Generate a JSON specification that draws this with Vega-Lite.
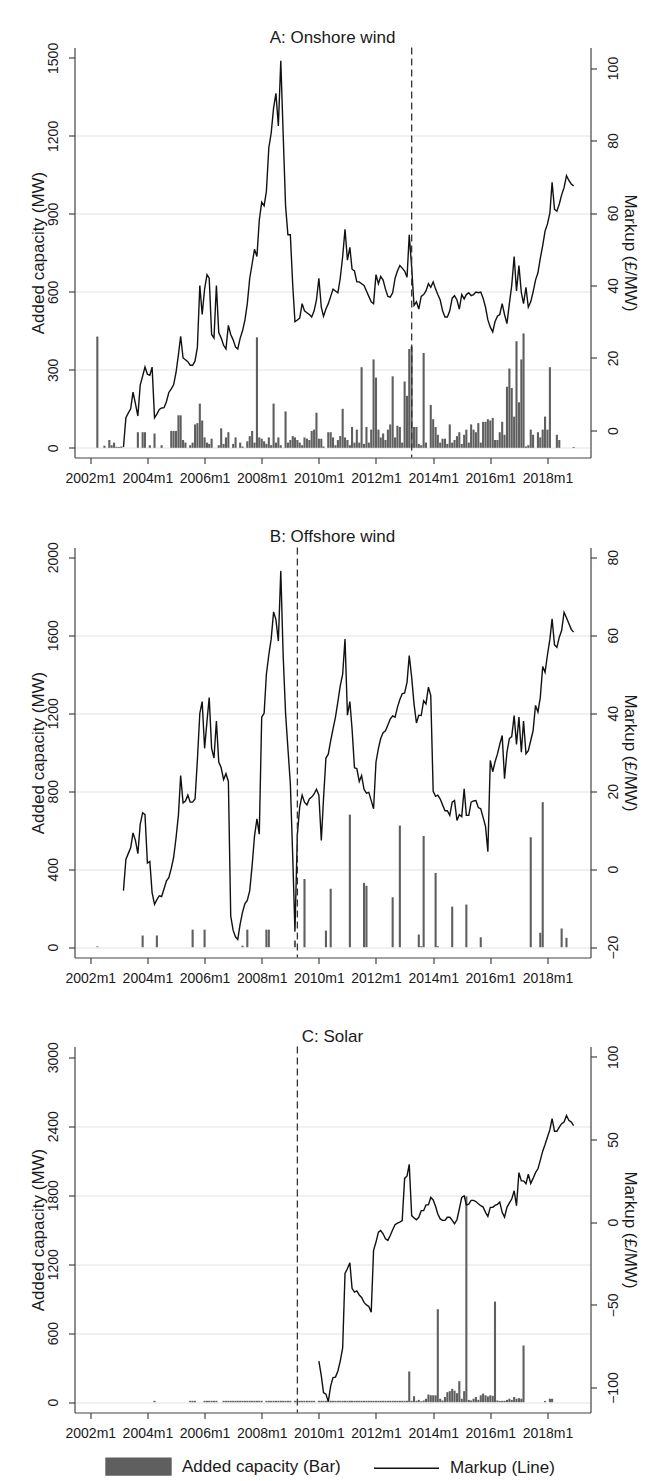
{
"$schema": "https://vega.github.io/schema/vega-lite/v6.json",
"background": "white",
"padding": {"left": 28.5, "top": 28.5, "right": 5, "bottom": 5},
"spacing": 42,
"config": {
  "font": "Liberation Sans",
  "view": {"stroke": null},
  "axis": {"labelFont": "Liberation Sans", "labelFontSize": 14, "labelColor": "#1a1a1a", "titleFont": "Liberation Sans", "titleFontSize": 17, "titleFontWeight": "normal", "titleColor": "#1a1a1a", "domainColor": "#444444", "domainWidth": 1.2, "tickColor": "#444444", "tickWidth": 1.2, "tickSize": 6, "gridColor": "#e3e3e3", "gridWidth": 1},
  "title": {"font": "Liberation Sans", "fontSize": 17, "fontWeight": "normal", "color": "#1a1a1a", "offset": -4.6, "anchor": "middle", "frame": "group"}
},
"datasets": {
  "breaks": [{"panel": "A", "month": "2013-04"}, {"panel": "B", "month": "2009-04"}, {"panel": "C", "month": "2009-04"}],
  "onshore_cap": [
    {"month":"2002-04","capacity":428},{"month":"2002-07","capacity":8},{"month":"2002-09","capacity":30},{"month":"2002-10","capacity":10},{"month":"2002-11","capacity":20},{"month":"2002-12","capacity":4},{"month":"2003-01","capacity":3},{"month":"2003-02","capacity":5},
    {"month":"2003-09","capacity":60},{"month":"2003-11","capacity":60},{"month":"2003-12","capacity":60},{"month":"2004-02","capacity":10},{"month":"2004-04","capacity":55},{"month":"2004-07","capacity":10},{"month":"2004-11","capacity":65},{"month":"2004-12","capacity":65},
    {"month":"2005-01","capacity":65},{"month":"2005-02","capacity":125},{"month":"2005-03","capacity":125},{"month":"2005-04","capacity":30},{"month":"2005-05","capacity":20},{"month":"2005-07","capacity":10},{"month":"2005-08","capacity":20},{"month":"2005-09","capacity":90},{"month":"2005-10","capacity":95},{"month":"2005-11","capacity":170},{"month":"2005-12","capacity":105},
    {"month":"2006-01","capacity":40},{"month":"2006-02","capacity":20},{"month":"2006-03","capacity":15},{"month":"2006-04","capacity":35},{"month":"2006-07","capacity":10},{"month":"2006-08","capacity":75},{"month":"2006-09","capacity":15},{"month":"2006-10","capacity":40},{"month":"2006-11","capacity":60},
    {"month":"2007-01","capacity":15},{"month":"2007-02","capacity":40},{"month":"2007-04","capacity":20},{"month":"2007-05","capacity":5},{"month":"2007-07","capacity":25},{"month":"2007-08","capacity":45},{"month":"2007-09","capacity":65},{"month":"2007-10","capacity":20},{"month":"2007-11","capacity":425},{"month":"2007-12","capacity":40},
    {"month":"2008-01","capacity":35},{"month":"2008-02","capacity":25},{"month":"2008-03","capacity":15},{"month":"2008-04","capacity":40},{"month":"2008-05","capacity":10},{"month":"2008-06","capacity":170},{"month":"2008-07","capacity":20},{"month":"2008-08","capacity":40},{"month":"2008-09","capacity":10},{"month":"2008-11","capacity":140},{"month":"2008-12","capacity":20},
    {"month":"2009-01","capacity":30},{"month":"2009-02","capacity":45},{"month":"2009-03","capacity":40},{"month":"2009-04","capacity":30},{"month":"2009-05","capacity":20},{"month":"2009-06","capacity":10},{"month":"2009-07","capacity":40},{"month":"2009-08","capacity":35},{"month":"2009-09","capacity":30},{"month":"2009-10","capacity":65},{"month":"2009-11","capacity":70},{"month":"2009-12","capacity":135},
    {"month":"2010-01","capacity":35},{"month":"2010-02","capacity":35},{"month":"2010-03","capacity":5},{"month":"2010-05","capacity":60},{"month":"2010-06","capacity":60},{"month":"2010-07","capacity":40},{"month":"2010-08","capacity":10},{"month":"2010-09","capacity":30},{"month":"2010-10","capacity":45},{"month":"2010-11","capacity":150},{"month":"2010-12","capacity":40},
    {"month":"2011-01","capacity":30},{"month":"2011-02","capacity":10},{"month":"2011-03","capacity":80},{"month":"2011-04","capacity":20},{"month":"2011-05","capacity":70},{"month":"2011-06","capacity":20},{"month":"2011-07","capacity":310},{"month":"2011-08","capacity":15},{"month":"2011-09","capacity":80},{"month":"2011-10","capacity":20},{"month":"2011-11","capacity":70},{"month":"2011-12","capacity":340},
    {"month":"2012-01","capacity":270},{"month":"2012-02","capacity":70},{"month":"2012-03","capacity":40},{"month":"2012-04","capacity":55},{"month":"2012-05","capacity":30},{"month":"2012-06","capacity":70},{"month":"2012-07","capacity":90},{"month":"2012-08","capacity":275},{"month":"2012-09","capacity":40},{"month":"2012-10","capacity":85},{"month":"2012-11","capacity":80},{"month":"2012-12","capacity":20},
    {"month":"2013-01","capacity":255},{"month":"2013-02","capacity":200},{"month":"2013-03","capacity":380},{"month":"2013-04","capacity":390},{"month":"2013-05","capacity":80},{"month":"2013-06","capacity":80},{"month":"2013-07","capacity":15},{"month":"2013-08","capacity":10},{"month":"2013-09","capacity":365},{"month":"2013-10","capacity":20},{"month":"2013-12","capacity":165},
    {"month":"2014-01","capacity":110},{"month":"2014-02","capacity":80},{"month":"2014-03","capacity":50},{"month":"2014-04","capacity":20},{"month":"2014-05","capacity":35},{"month":"2014-06","capacity":35},{"month":"2014-07","capacity":15},{"month":"2014-08","capacity":90},{"month":"2014-09","capacity":20},{"month":"2014-10","capacity":30},{"month":"2014-11","capacity":45},{"month":"2014-12","capacity":60},
    {"month":"2015-01","capacity":15},{"month":"2015-02","capacity":50},{"month":"2015-03","capacity":70},{"month":"2015-04","capacity":20},{"month":"2015-05","capacity":90},{"month":"2015-06","capacity":70},{"month":"2015-07","capacity":60},{"month":"2015-08","capacity":95},{"month":"2015-09","capacity":20},{"month":"2015-10","capacity":100},{"month":"2015-11","capacity":100},{"month":"2015-12","capacity":110},
    {"month":"2016-01","capacity":105},{"month":"2016-02","capacity":115},{"month":"2016-03","capacity":30},{"month":"2016-04","capacity":30},{"month":"2016-05","capacity":60},{"month":"2016-06","capacity":100},{"month":"2016-07","capacity":50},{"month":"2016-08","capacity":235},{"month":"2016-09","capacity":305},{"month":"2016-10","capacity":230},{"month":"2016-11","capacity":120},{"month":"2016-12","capacity":410},
    {"month":"2017-01","capacity":175},{"month":"2017-02","capacity":340},{"month":"2017-03","capacity":440},{"month":"2017-04","capacity":5},{"month":"2017-05","capacity":10},{"month":"2017-06","capacity":70},{"month":"2017-07","capacity":50},{"month":"2017-09","capacity":60},{"month":"2017-10","capacity":40},{"month":"2017-11","capacity":70},{"month":"2017-12","capacity":120},
    {"month":"2018-01","capacity":70},{"month":"2018-02","capacity":310},{"month":"2018-05","capacity":50},{"month":"2018-06","capacity":30},{"month":"2018-12","capacity":3}
  ],
  "onshore_mk": [
    {"month":"2003-03","markup":-4.6},{"month":"2003-04","markup":3.5},{"month":"2003-05","markup":4.8},{"month":"2003-06","markup":6.0},{"month":"2003-07","markup":10.6},{"month":"2003-08","markup":7.4},{"month":"2003-09","markup":4.0},{"month":"2003-10","markup":12.5},{"month":"2003-11","markup":15.0},{"month":"2003-12","markup":17.5},
    {"month":"2004-01","markup":15.5},{"month":"2004-02","markup":15.2},{"month":"2004-03","markup":17.5},{"month":"2004-04","markup":3.5},{"month":"2004-05","markup":4.5},{"month":"2004-06","markup":5.8},{"month":"2004-07","markup":6.2},{"month":"2004-08","markup":6.3},{"month":"2004-09","markup":8.0},{"month":"2004-10","markup":10.5},{"month":"2004-11","markup":11.5},{"month":"2004-12","markup":12.6},
    {"month":"2005-01","markup":16.0},{"month":"2005-02","markup":21.0},{"month":"2005-03","markup":26.0},{"month":"2005-04","markup":20.0},{"month":"2005-05","markup":19.5},{"month":"2005-06","markup":19.0},{"month":"2005-07","markup":18.0},{"month":"2005-08","markup":18.0},{"month":"2005-09","markup":19.2},{"month":"2005-10","markup":23.0},{"month":"2005-11","markup":40.0},{"month":"2005-12","markup":32.0},
    {"month":"2006-01","markup":39.0},{"month":"2006-02","markup":43.0},{"month":"2006-03","markup":42.0},{"month":"2006-04","markup":26.5},{"month":"2006-05","markup":25.5},{"month":"2006-06","markup":40.0},{"month":"2006-07","markup":27.0},{"month":"2006-08","markup":25.5},{"month":"2006-09","markup":23.5},{"month":"2006-10","markup":22.5},{"month":"2006-11","markup":29.0},{"month":"2006-12","markup":26.5},
    {"month":"2007-01","markup":25.0},{"month":"2007-02","markup":23.0},{"month":"2007-03","markup":22.5},{"month":"2007-04","markup":25.5},{"month":"2007-05","markup":27.5},{"month":"2007-06","markup":30.5},{"month":"2007-07","markup":35.0},{"month":"2007-08","markup":42.0},{"month":"2007-09","markup":46.0},{"month":"2007-10","markup":50.0},{"month":"2007-11","markup":48.0},{"month":"2007-12","markup":58.0},
    {"month":"2008-01","markup":63.0},{"month":"2008-02","markup":62.0},{"month":"2008-03","markup":66.0},{"month":"2008-04","markup":78.0},{"month":"2008-05","markup":82.0},{"month":"2008-06","markup":89.0},{"month":"2008-07","markup":93.0},{"month":"2008-08","markup":84.0},{"month":"2008-09","markup":102.0},{"month":"2008-10","markup":82.0},{"month":"2008-11","markup":62.0},{"month":"2008-12","markup":54.0},
    {"month":"2009-01","markup":54.0},{"month":"2009-02","markup":40.0},{"month":"2009-03","markup":30.0},{"month":"2009-04","markup":30.5},{"month":"2009-05","markup":31.0},{"month":"2009-06","markup":35.0},{"month":"2009-07","markup":33.0},{"month":"2009-08","markup":32.5},{"month":"2009-09","markup":32.0},{"month":"2009-10","markup":31.3},{"month":"2009-11","markup":33.0},{"month":"2009-12","markup":36.0},
    {"month":"2010-01","markup":42.0},{"month":"2010-02","markup":34.0},{"month":"2010-03","markup":31.5},{"month":"2010-04","markup":33.5},{"month":"2010-05","markup":35.0},{"month":"2010-06","markup":37.0},{"month":"2010-07","markup":39.0},{"month":"2010-08","markup":38.5},{"month":"2010-09","markup":38.0},{"month":"2010-10","markup":42.0},{"month":"2010-11","markup":48.0},{"month":"2010-12","markup":55.5},
    {"month":"2011-01","markup":47.0},{"month":"2011-02","markup":50.5},{"month":"2011-03","markup":44.5},{"month":"2011-04","markup":44.0},{"month":"2011-05","markup":41.0},{"month":"2011-06","markup":41.0},{"month":"2011-07","markup":40.5},{"month":"2011-08","markup":40.0},{"month":"2011-09","markup":38.5},{"month":"2011-10","markup":37.0},{"month":"2011-11","markup":35.5},{"month":"2011-12","markup":35.0},
    {"month":"2012-01","markup":43.0},{"month":"2012-02","markup":40.5},{"month":"2012-03","markup":42.5},{"month":"2012-04","markup":41.5},{"month":"2012-05","markup":39.0},{"month":"2012-06","markup":37.0},{"month":"2012-07","markup":36.8},{"month":"2012-08","markup":38.0},{"month":"2012-09","markup":42.0},{"month":"2012-10","markup":44.0},{"month":"2012-11","markup":45.5},{"month":"2012-12","markup":44.8},
    {"month":"2013-01","markup":44.0},{"month":"2013-02","markup":42.3},{"month":"2013-03","markup":54.0},{"month":"2013-04","markup":45.0},{"month":"2013-05","markup":34.5},{"month":"2013-06","markup":35.5},{"month":"2013-07","markup":33.5},{"month":"2013-08","markup":37.0},{"month":"2013-09","markup":37.5},{"month":"2013-10","markup":38.5},{"month":"2013-11","markup":40.5},{"month":"2013-12","markup":39.5},
    {"month":"2014-01","markup":41.0},{"month":"2014-02","markup":39.0},{"month":"2014-03","markup":37.5},{"month":"2014-04","markup":36.0},{"month":"2014-05","markup":33.0},{"month":"2014-06","markup":31.3},{"month":"2014-07","markup":31.3},{"month":"2014-08","markup":33.0},{"month":"2014-09","markup":36.5},{"month":"2014-10","markup":37.2},{"month":"2014-11","markup":36.0},{"month":"2014-12","markup":33.5},
    {"month":"2015-01","markup":37.5},{"month":"2015-02","markup":36.3},{"month":"2015-03","markup":37.5},{"month":"2015-04","markup":38.0},{"month":"2015-05","markup":37.2},{"month":"2015-06","markup":37.5},{"month":"2015-07","markup":38.2},{"month":"2015-08","markup":38.0},{"month":"2015-09","markup":38.2},{"month":"2015-10","markup":36.5},{"month":"2015-11","markup":34.0},{"month":"2015-12","markup":30.5},
    {"month":"2016-01","markup":28.5},{"month":"2016-02","markup":27.2},{"month":"2016-03","markup":30.0},{"month":"2016-04","markup":31.5},{"month":"2016-05","markup":32.0},{"month":"2016-06","markup":35.0},{"month":"2016-07","markup":32.0},{"month":"2016-08","markup":29.5},{"month":"2016-09","markup":35.0},{"month":"2016-10","markup":40.0},{"month":"2016-11","markup":48.0},{"month":"2016-12","markup":38.5},
    {"month":"2017-01","markup":45.5},{"month":"2017-02","markup":38.0},{"month":"2017-03","markup":35.0},{"month":"2017-04","markup":39.5},{"month":"2017-05","markup":34.0},{"month":"2017-06","markup":35.5},{"month":"2017-07","markup":38.2},{"month":"2017-08","markup":41.5},{"month":"2017-09","markup":43.5},{"month":"2017-10","markup":47.5},{"month":"2017-11","markup":51.0},{"month":"2017-12","markup":55.0},
    {"month":"2018-01","markup":57.0},{"month":"2018-02","markup":60.0},{"month":"2018-03","markup":68.5},{"month":"2018-04","markup":61.0},{"month":"2018-05","markup":60.5},{"month":"2018-06","markup":62.5},{"month":"2018-07","markup":65.0},{"month":"2018-08","markup":67.0},{"month":"2018-09","markup":70.3},{"month":"2018-10","markup":69.0},{"month":"2018-11","markup":68.0},{"month":"2018-12","markup":67.5}
  ],
  "offshore_cap": [
    {"month":"2002-04","capacity":4},{"month":"2003-11","capacity":60},{"month":"2004-05","capacity":60},{"month":"2005-08","capacity":90},{"month":"2006-01","capacity":90},{"month":"2007-05","capacity":8},{"month":"2007-07","capacity":90},{"month":"2008-03","capacity":90},{"month":"2008-04","capacity":90},{"month":"2009-03","capacity":34},
    {"month":"2009-07","capacity":350},{"month":"2010-04","capacity":85},{"month":"2010-06","capacity":300},{"month":"2011-02","capacity":680},{"month":"2011-08","capacity":330},{"month":"2011-09","capacity":315},{"month":"2012-08","capacity":256},{"month":"2012-11","capacity":624},
    {"month":"2013-07","capacity":65},{"month":"2013-08","capacity":5},{"month":"2013-09","capacity":570},{"month":"2014-02","capacity":381},{"month":"2014-03","capacity":5},{"month":"2014-09","capacity":208},{"month":"2015-03","capacity":219},{"month":"2015-09","capacity":51},
    {"month":"2017-06","capacity":564},{"month":"2017-10","capacity":74},{"month":"2017-11","capacity":744},{"month":"2018-07","capacity":96},{"month":"2018-09","capacity":48}
  ],
  "offshore_mk": [
    {"month":"2003-03","markup":-5.5},{"month":"2003-04","markup":2.5},{"month":"2003-05","markup":4.0},{"month":"2003-06","markup":5.5},{"month":"2003-07","markup":9.3},{"month":"2003-08","markup":7.4},{"month":"2003-09","markup":4.0},{"month":"2003-10","markup":11.5},{"month":"2003-11","markup":14.5},{"month":"2003-12","markup":14.0},
    {"month":"2004-01","markup":1.6},{"month":"2004-02","markup":2.0},{"month":"2004-03","markup":-6.0},{"month":"2004-04","markup":-9.0},{"month":"2004-05","markup":-7.8},{"month":"2004-06","markup":-6.8},{"month":"2004-07","markup":-7.0},{"month":"2004-08","markup":-5.0},{"month":"2004-09","markup":-3.0},{"month":"2004-10","markup":-2.2},{"month":"2004-11","markup":0.2},{"month":"2004-12","markup":3.0},
    {"month":"2005-01","markup":8.0},{"month":"2005-02","markup":14.0},{"month":"2005-03","markup":24.0},{"month":"2005-04","markup":17.0},{"month":"2005-05","markup":17.5},{"month":"2005-06","markup":19.0},{"month":"2005-07","markup":17.2},{"month":"2005-08","markup":17.2},{"month":"2005-09","markup":18.0},{"month":"2005-10","markup":28.0},{"month":"2005-11","markup":40.0},{"month":"2005-12","markup":43.0},
    {"month":"2006-01","markup":31.0},{"month":"2006-02","markup":38.0},{"month":"2006-03","markup":44.0},{"month":"2006-04","markup":31.0},{"month":"2006-05","markup":28.5},{"month":"2006-06","markup":38.0},{"month":"2006-07","markup":27.5},{"month":"2006-08","markup":26.0},{"month":"2006-09","markup":23.0},{"month":"2006-10","markup":24.5},{"month":"2006-11","markup":22.5},{"month":"2006-12","markup":-12.0},
    {"month":"2007-01","markup":-15.7},{"month":"2007-02","markup":-17.4},{"month":"2007-03","markup":-18.0},{"month":"2007-04","markup":-14.0},{"month":"2007-05","markup":-11.0},{"month":"2007-06","markup":-8.8},{"month":"2007-07","markup":-8.0},{"month":"2007-08","markup":-5.5},{"month":"2007-09","markup":1.0},{"month":"2007-10","markup":8.5},{"month":"2007-11","markup":12.9},{"month":"2007-12","markup":9.0},
    {"month":"2008-01","markup":39.0},{"month":"2008-02","markup":40.0},{"month":"2008-03","markup":50.0},{"month":"2008-04","markup":55.0},{"month":"2008-05","markup":59.0},{"month":"2008-06","markup":66.0},{"month":"2008-07","markup":64.0},{"month":"2008-08","markup":58.5},{"month":"2008-09","markup":76.5},{"month":"2008-10","markup":55.0},{"month":"2008-11","markup":40.0},{"month":"2008-12","markup":31.0},
    {"month":"2009-01","markup":22.0},{"month":"2009-02","markup":3.0},{"month":"2009-03","markup":-16.0},{"month":"2009-04","markup":9.0},{"month":"2009-05","markup":16.0},{"month":"2009-06","markup":19.0},{"month":"2009-07","markup":17.2},{"month":"2009-08","markup":16.5},{"month":"2009-09","markup":18.0},{"month":"2009-10","markup":18.5},{"month":"2009-11","markup":19.3},{"month":"2009-12","markup":20.5},
    {"month":"2010-01","markup":19.0},{"month":"2010-02","markup":7.4},{"month":"2010-03","markup":18.0},{"month":"2010-04","markup":28.5},{"month":"2010-05","markup":29.5},{"month":"2010-06","markup":33.0},{"month":"2010-07","markup":36.0},{"month":"2010-08","markup":39.0},{"month":"2010-09","markup":43.0},{"month":"2010-10","markup":47.0},{"month":"2010-11","markup":50.0},{"month":"2010-12","markup":59.0},
    {"month":"2011-01","markup":39.5},{"month":"2011-02","markup":43.0},{"month":"2011-03","markup":36.0},{"month":"2011-04","markup":26.0},{"month":"2011-05","markup":25.8},{"month":"2011-06","markup":22.5},{"month":"2011-07","markup":24.0},{"month":"2011-08","markup":20.5},{"month":"2011-09","markup":19.5},{"month":"2011-10","markup":19.7},{"month":"2011-11","markup":17.6},{"month":"2011-12","markup":15.5},
    {"month":"2012-01","markup":27.5},{"month":"2012-02","markup":31.0},{"month":"2012-03","markup":33.5},{"month":"2012-04","markup":35.0},{"month":"2012-05","markup":35.5},{"month":"2012-06","markup":37.0},{"month":"2012-07","markup":38.5},{"month":"2012-08","markup":39.3},{"month":"2012-09","markup":39.0},{"month":"2012-10","markup":41.5},{"month":"2012-11","markup":43.5},{"month":"2012-12","markup":45.0},
    {"month":"2013-01","markup":45.2},{"month":"2013-02","markup":48.0},{"month":"2013-03","markup":54.8},{"month":"2013-04","markup":49.2},{"month":"2013-05","markup":42.4},{"month":"2013-06","markup":37.5},{"month":"2013-07","markup":39.5},{"month":"2013-08","markup":39.4},{"month":"2013-09","markup":43.2},{"month":"2013-10","markup":42.4},{"month":"2013-11","markup":46.7},{"month":"2013-12","markup":44.5},
    {"month":"2014-01","markup":20.0},{"month":"2014-02","markup":18.7},{"month":"2014-03","markup":19.0},{"month":"2014-04","markup":18.0},{"month":"2014-05","markup":16.5},{"month":"2014-06","markup":15.0},{"month":"2014-07","markup":15.0},{"month":"2014-08","markup":13.8},{"month":"2014-09","markup":17.2},{"month":"2014-10","markup":17.6},{"month":"2014-11","markup":12.5},{"month":"2014-12","markup":14.0},
    {"month":"2015-01","markup":13.5},{"month":"2015-02","markup":20.6},{"month":"2015-03","markup":13.8},{"month":"2015-04","markup":13.8},{"month":"2015-05","markup":17.2},{"month":"2015-06","markup":17.5},{"month":"2015-07","markup":17.6},{"month":"2015-08","markup":15.8},{"month":"2015-09","markup":15.5},{"month":"2015-10","markup":13.3},{"month":"2015-11","markup":11.0},{"month":"2015-12","markup":4.5},
    {"month":"2016-01","markup":27.9},{"month":"2016-02","markup":25.0},{"month":"2016-03","markup":27.5},{"month":"2016-04","markup":29.5},{"month":"2016-05","markup":32.0},{"month":"2016-06","markup":34.3},{"month":"2016-07","markup":23.2},{"month":"2016-08","markup":30.0},{"month":"2016-09","markup":33.5},{"month":"2016-10","markup":34.0},{"month":"2016-11","markup":39.4},{"month":"2016-12","markup":32.0},
    {"month":"2017-01","markup":39.0},{"month":"2017-02","markup":30.0},{"month":"2017-03","markup":38.0},{"month":"2017-04","markup":29.6},{"month":"2017-05","markup":30.4},{"month":"2017-06","markup":33.0},{"month":"2017-07","markup":35.5},{"month":"2017-08","markup":42.0},{"month":"2017-09","markup":40.3},{"month":"2017-10","markup":44.0},{"month":"2017-11","markup":52.0},{"month":"2017-12","markup":50.5},
    {"month":"2018-01","markup":55.0},{"month":"2018-02","markup":59.0},{"month":"2018-03","markup":64.2},{"month":"2018-04","markup":57.5},{"month":"2018-05","markup":56.9},{"month":"2018-06","markup":59.5},{"month":"2018-07","markup":61.2},{"month":"2018-08","markup":65.9},{"month":"2018-09","markup":64.5},{"month":"2018-10","markup":63.0},{"month":"2018-11","markup":61.5},{"month":"2018-12","markup":60.8}
  ],
  "solar_cap": [
    {"month":"2004-04","capacity":12},{"month":"2005-07","capacity":12},{"month":"2005-08","capacity":12},{"month":"2005-09","capacity":12},
    {"month":"2006-01","capacity":12},{"month":"2006-02","capacity":12},{"month":"2006-03","capacity":12},{"month":"2006-04","capacity":12},{"month":"2006-05","capacity":12},{"month":"2006-06","capacity":12},
    {"month":"2006-09","capacity":12},{"month":"2006-10","capacity":12},{"month":"2006-11","capacity":12},{"month":"2006-12","capacity":12},
    {"month":"2007-01","capacity":12},{"month":"2007-02","capacity":12},{"month":"2007-03","capacity":12},{"month":"2007-04","capacity":12},{"month":"2007-05","capacity":12},{"month":"2007-06","capacity":12},{"month":"2007-07","capacity":12},{"month":"2007-08","capacity":12},{"month":"2007-09","capacity":12},{"month":"2007-10","capacity":12},{"month":"2007-11","capacity":12},{"month":"2007-12","capacity":12},
    {"month":"2008-01","capacity":12},{"month":"2008-03","capacity":12},{"month":"2008-04","capacity":12},{"month":"2008-05","capacity":12},{"month":"2008-06","capacity":12},{"month":"2008-07","capacity":12},{"month":"2008-08","capacity":12},{"month":"2008-09","capacity":12},{"month":"2008-10","capacity":12},{"month":"2008-11","capacity":12},{"month":"2008-12","capacity":12},
    {"month":"2009-01","capacity":12},{"month":"2009-03","capacity":12},{"month":"2009-04","capacity":12},{"month":"2009-05","capacity":12},{"month":"2009-06","capacity":12},{"month":"2009-07","capacity":12},{"month":"2009-08","capacity":12},{"month":"2009-09","capacity":12},{"month":"2009-10","capacity":12},{"month":"2009-11","capacity":12},
    {"month":"2010-01","capacity":12},{"month":"2010-02","capacity":12},{"month":"2010-03","capacity":12},{"month":"2010-04","capacity":12},{"month":"2010-05","capacity":12},{"month":"2010-06","capacity":12},{"month":"2010-07","capacity":12},{"month":"2010-08","capacity":12},{"month":"2010-09","capacity":12},{"month":"2010-10","capacity":12},{"month":"2010-11","capacity":12},{"month":"2010-12","capacity":12},
    {"month":"2011-01","capacity":12},{"month":"2011-02","capacity":12},{"month":"2011-03","capacity":12},{"month":"2011-04","capacity":12},{"month":"2011-05","capacity":12},{"month":"2011-06","capacity":12},{"month":"2011-07","capacity":12},{"month":"2011-08","capacity":12},{"month":"2011-09","capacity":12},{"month":"2011-10","capacity":12},{"month":"2011-11","capacity":12},{"month":"2011-12","capacity":12},
    {"month":"2012-01","capacity":12},{"month":"2012-02","capacity":12},{"month":"2012-03","capacity":12},{"month":"2012-04","capacity":12},{"month":"2012-05","capacity":12},{"month":"2012-06","capacity":12},{"month":"2012-07","capacity":12},{"month":"2012-08","capacity":12},{"month":"2012-09","capacity":12},{"month":"2012-10","capacity":12},{"month":"2012-11","capacity":12},{"month":"2012-12","capacity":12},
    {"month":"2013-01","capacity":12},{"month":"2013-02","capacity":12},{"month":"2013-03","capacity":267},{"month":"2013-04","capacity":12},{"month":"2013-05","capacity":52},{"month":"2013-06","capacity":12},{"month":"2013-07","capacity":20},{"month":"2013-08","capacity":8},{"month":"2013-09","capacity":15},{"month":"2013-10","capacity":30},{"month":"2013-11","capacity":67},{"month":"2013-12","capacity":60},
    {"month":"2014-01","capacity":60},{"month":"2014-02","capacity":60},{"month":"2014-03","capacity":809},{"month":"2014-04","capacity":30},{"month":"2014-05","capacity":15},{"month":"2014-06","capacity":45},{"month":"2014-07","capacity":87},{"month":"2014-08","capacity":96},{"month":"2014-09","capacity":116},{"month":"2014-10","capacity":100},{"month":"2014-11","capacity":78},{"month":"2014-12","capacity":183},
    {"month":"2015-01","capacity":30},{"month":"2015-02","capacity":96},{"month":"2015-03","capacity":1790},{"month":"2015-04","capacity":20},{"month":"2015-05","capacity":15},{"month":"2015-06","capacity":30},{"month":"2015-07","capacity":45},{"month":"2015-08","capacity":20},{"month":"2015-09","capacity":60},{"month":"2015-10","capacity":75},{"month":"2015-11","capacity":60},{"month":"2015-12","capacity":50},
    {"month":"2016-01","capacity":60},{"month":"2016-02","capacity":55},{"month":"2016-03","capacity":875},{"month":"2016-04","capacity":15},{"month":"2016-05","capacity":10},{"month":"2016-06","capacity":12},{"month":"2016-07","capacity":12},{"month":"2016-08","capacity":20},{"month":"2016-09","capacity":30},{"month":"2016-10","capacity":20},{"month":"2016-11","capacity":45},{"month":"2016-12","capacity":30},
    {"month":"2017-01","capacity":35},{"month":"2017-02","capacity":30},{"month":"2017-03","capacity":493},{"month":"2017-12","capacity":10},{"month":"2018-02","capacity":30},{"month":"2018-03","capacity":30}
  ],
  "solar_mk": [
    {"month":"2010-01","markup":-84},{"month":"2010-02","markup":-93},{"month":"2010-03","markup":-103},{"month":"2010-04","markup":-104},{"month":"2010-05","markup":-108.5},{"month":"2010-06","markup":-99},{"month":"2010-07","markup":-94},{"month":"2010-08","markup":-93.7},{"month":"2010-09","markup":-90},{"month":"2010-10","markup":-84},{"month":"2010-11","markup":-76},{"month":"2010-12","markup":-31},
    {"month":"2011-01","markup":-28},{"month":"2011-02","markup":-24.5},{"month":"2011-03","markup":-40},{"month":"2011-04","markup":-42.3},{"month":"2011-05","markup":-41.5},{"month":"2011-06","markup":-44},{"month":"2011-07","markup":-45.5},{"month":"2011-08","markup":-48.5},{"month":"2011-09","markup":-50},{"month":"2011-10","markup":-51},{"month":"2011-11","markup":-54.4},{"month":"2011-12","markup":-17},
    {"month":"2012-01","markup":-12},{"month":"2012-02","markup":-6},{"month":"2012-03","markup":-5},{"month":"2012-04","markup":-7},{"month":"2012-05","markup":-10},{"month":"2012-06","markup":-11},{"month":"2012-07","markup":-8},{"month":"2012-08","markup":-4.5},{"month":"2012-09","markup":-1.5},{"month":"2012-10","markup":-0.5},{"month":"2012-11","markup":0.1},{"month":"2012-12","markup":1},
    {"month":"2013-01","markup":26.5},{"month":"2013-02","markup":28},{"month":"2013-03","markup":35},{"month":"2013-04","markup":4},{"month":"2013-05","markup":2.6},{"month":"2013-06","markup":1.5},{"month":"2013-07","markup":3},{"month":"2013-08","markup":7},{"month":"2013-09","markup":7},{"month":"2013-10","markup":10.5},{"month":"2013-11","markup":10.5},{"month":"2013-12","markup":15},
    {"month":"2014-01","markup":13.5},{"month":"2014-02","markup":9.5},{"month":"2014-03","markup":5},{"month":"2014-04","markup":2},{"month":"2014-05","markup":1.1},{"month":"2014-06","markup":1.1},{"month":"2014-07","markup":3},{"month":"2014-08","markup":3},{"month":"2014-09","markup":1.1},{"month":"2014-10","markup":-0.9},{"month":"2014-11","markup":1.5},{"month":"2014-12","markup":8},
    {"month":"2015-01","markup":15},{"month":"2015-02","markup":16},{"month":"2015-03","markup":10.5},{"month":"2015-04","markup":11},{"month":"2015-05","markup":13.2},{"month":"2015-06","markup":13.2},{"month":"2015-07","markup":12.5},{"month":"2015-08","markup":11.2},{"month":"2015-09","markup":10},{"month":"2015-10","markup":9.2},{"month":"2015-11","markup":6},{"month":"2015-12","markup":3.5},
    {"month":"2016-01","markup":9},{"month":"2016-02","markup":9},{"month":"2016-03","markup":10.2},{"month":"2016-04","markup":10.8},{"month":"2016-05","markup":12.2},{"month":"2016-06","markup":6},{"month":"2016-07","markup":3.1},{"month":"2016-08","markup":9},{"month":"2016-09","markup":11.7},{"month":"2016-10","markup":14},{"month":"2016-11","markup":19},{"month":"2016-12","markup":10},
    {"month":"2017-01","markup":30},{"month":"2017-02","markup":25},{"month":"2017-03","markup":25},{"month":"2017-04","markup":23.3},{"month":"2017-05","markup":29},{"month":"2017-06","markup":23.5},{"month":"2017-07","markup":26.5},{"month":"2017-08","markup":30},{"month":"2017-09","markup":32.3},{"month":"2017-10","markup":37.4},{"month":"2017-11","markup":43},{"month":"2017-12","markup":47},
    {"month":"2018-01","markup":51.5},{"month":"2018-02","markup":56},{"month":"2018-03","markup":62.6},{"month":"2018-04","markup":55},{"month":"2018-05","markup":55},{"month":"2018-06","markup":57.5},{"month":"2018-07","markup":59.6},{"month":"2018-08","markup":60.6},{"month":"2018-09","markup":64.6},{"month":"2018-10","markup":61.6},{"month":"2018-11","markup":60.6},{"month":"2018-12","markup":58.5}
  ]
},
"vconcat": [
  {
    "title": {"text": "A: Onshore wind"},
    "width": 516, "height": 410,
    "layer": [
      {"data": {"name": "onshore_cap"}, "mark": {"type": "bar", "size": 2.1, "color": "#5f5f5f"},
       "encoding": {
         "x": {"field": "month", "type": "temporal", "scale": {"type": "utc", "nice": false, "domain": [{"year": 2001, "month": 8, "date": 16, "utc": true}, {"year": 2019, "month": 5, "date": 2, "utc": true}]},
               "axis": {"values": [{"year":2002,"month":1,"date":1,"utc":true},{"year":2004,"month":1,"date":1,"utc":true},{"year":2006,"month":1,"date":1,"utc":true},{"year":2008,"month":1,"date":1,"utc":true},{"year":2010,"month":1,"date":1,"utc":true},{"year":2012,"month":1,"date":1,"utc":true},{"year":2014,"month":1,"date":1,"utc":true},{"year":2016,"month":1,"date":1,"utc":true},{"year":2018,"month":1,"date":1,"utc":true}], "format": "%Ym1", "title": null, "grid": false, "labelAngle": 0, "labelPadding": 8, "labelFlush": false}},
         "y": {"field": "capacity", "type": "quantitative", "scale": {"domain": [-37.3, 1540], "nice": false, "zero": false},
               "axis": {"values": [0, 300, 600, 900, 1200, 1500], "format": "d", "title": "Added capacity (MW)", "labelAngle": -90, "labelAlign": "center", "labelBaseline": "alphabetic", "labelPadding": 11.5, "titlePadding": -1.5, "grid": true, "gridOpacity": {"condition": {"test": "datum.value === 1500", "value": 0}, "value": 1}}}
       }},
      {"data": {"name": "onshore_mk"}, "mark": {"type": "line", "color": "#111111", "strokeWidth": 1.4},
       "encoding": {
         "x": {"field": "month", "type": "temporal"},
         "y": {"field": "markup", "type": "quantitative", "scale": {"domain": [-7.45, 105.66], "nice": false, "zero": false},
               "axis": {"orient": "right", "values": [0, 20, 40, 60, 80, 100], "format": "d", "title": "Markup (£/MW)", "labelAngle": -90, "labelAlign": "center", "labelBaseline": "alphabetic", "labelPadding": 21, "titleAngle": 90, "titlePadding": 0, "grid": false}}
       }},
      {"data": {"name": "breaks"}, "transform": [{"filter": "datum.panel === 'A'"}], "mark": {"type": "rule", "color": "#333333", "strokeWidth": 1.3, "strokeDash": [7, 4]},
       "encoding": {"x": {"field": "month", "type": "temporal"}}}
    ],
    "resolve": {"scale": {"y": "independent"}}
  },
  {
    "title": {"text": "B: Offshore wind"},
    "width": 516, "height": 410,
    "layer": [
      {"data": {"name": "offshore_cap"}, "mark": {"type": "bar", "size": 2.1, "color": "#5f5f5f"},
       "encoding": {
         "x": {"field": "month", "type": "temporal", "scale": {"type": "utc", "nice": false, "domain": [{"year": 2001, "month": 8, "date": 16, "utc": true}, {"year": 2019, "month": 5, "date": 2, "utc": true}]},
               "axis": {"values": [{"year":2002,"month":1,"date":1,"utc":true},{"year":2004,"month":1,"date":1,"utc":true},{"year":2006,"month":1,"date":1,"utc":true},{"year":2008,"month":1,"date":1,"utc":true},{"year":2010,"month":1,"date":1,"utc":true},{"year":2012,"month":1,"date":1,"utc":true},{"year":2014,"month":1,"date":1,"utc":true},{"year":2016,"month":1,"date":1,"utc":true},{"year":2018,"month":1,"date":1,"utc":true}], "format": "%Ym1", "title": null, "grid": false, "labelAngle": 0, "labelPadding": 8, "labelFlush": false}},
         "y": {"field": "capacity", "type": "quantitative", "scale": {"domain": [-52.8, 2050], "nice": false, "zero": false},
               "axis": {"values": [0, 400, 800, 1200, 1600, 2000], "format": "d", "title": "Added capacity (MW)", "labelAngle": -90, "labelAlign": "center", "labelBaseline": "alphabetic", "labelPadding": 11.5, "titlePadding": -1.5, "grid": true, "gridOpacity": {"condition": {"test": "datum.value === 2000", "value": 0}, "value": 1}}}
       }},
      {"data": {"name": "offshore_mk"}, "mark": {"type": "line", "color": "#111111", "strokeWidth": 1.4},
       "encoding": {
         "x": {"field": "month", "type": "temporal"},
         "y": {"field": "markup", "type": "quantitative", "scale": {"domain": [-22.64, 82.5], "nice": false, "zero": false},
               "axis": {"orient": "right", "values": [-20, 0, 20, 40, 60, 80], "format": "d", "title": "Markup (£/MW)", "labelAngle": -90, "labelAlign": "center", "labelBaseline": "alphabetic", "labelPadding": 21, "titleAngle": 90, "titlePadding": 0, "grid": false}}
       }},
      {"data": {"name": "breaks"}, "transform": [{"filter": "datum.panel === 'B'"}], "mark": {"type": "rule", "color": "#333333", "strokeWidth": 1.3, "strokeDash": [7, 4]},
       "encoding": {"x": {"field": "month", "type": "temporal"}}}
    ],
    "resolve": {"scale": {"y": "independent"}}
  },
  {
    "title": {"text": "C: Solar"},
    "width": 516, "height": 366,
    "layer": [
      {"data": {"name": "solar_cap"}, "mark": {"type": "bar", "size": 2.1},
       "encoding": {
         "x": {"field": "month", "type": "temporal", "scale": {"type": "utc", "nice": false, "domain": [{"year": 2001, "month": 8, "date": 16, "utc": true}, {"year": 2019, "month": 5, "date": 2, "utc": true}]},
               "axis": {"values": [{"year":2002,"month":1,"date":1,"utc":true},{"year":2004,"month":1,"date":1,"utc":true},{"year":2006,"month":1,"date":1,"utc":true},{"year":2008,"month":1,"date":1,"utc":true},{"year":2010,"month":1,"date":1,"utc":true},{"year":2012,"month":1,"date":1,"utc":true},{"year":2014,"month":1,"date":1,"utc":true},{"year":2016,"month":1,"date":1,"utc":true},{"year":2018,"month":1,"date":1,"utc":true}], "format": "%Ym1", "title": null, "grid": false, "labelAngle": 0, "labelPadding": 8, "labelFlush": false}},
         "y": {"field": "capacity", "type": "quantitative", "scale": {"domain": [-89.6, 3093], "nice": false, "zero": false},
               "axis": {"values": [0, 600, 1200, 1800, 2400, 3000], "format": "d", "title": "Added capacity (MW)", "labelAngle": -90, "labelAlign": "center", "labelBaseline": "alphabetic", "labelPadding": 11.5, "titlePadding": -1.5, "grid": true, "gridOpacity": {"condition": {"test": "datum.value === 3000", "value": 0}, "value": 1}}},
         "color": {"datum": "Added capacity (Bar)", "type": "nominal",
                   "scale": {"domain": ["Added capacity (Bar)", "Markup (Line)"], "range": ["#5f5f5f", "#111111"]},
                   "legend": {"orient": "none", "legendX": 30.5, "legendY": 1385.5, "direction": "horizontal", "title": null, "labelFontSize": 17, "labelColor": "#1a1a1a", "labelFont": "Liberation Sans", "symbolSize": 4225, "symbolType": "M-1,-0.26L1,-0.26L1,0.26L-1,0.26Z", "columnPadding": 30, "labelOffset": 10,
                              "encode": {"symbols": {"update": {
                                 "shape": {"signal": "datum.value === 'Markup (Line)' ? 'M-1,0L1,0' : 'M-1,-0.26L1,-0.26L1,0.26L-1,0.26Z'"},
                                 "fill": {"signal": "datum.value === 'Markup (Line)' ? 'transparent' : '#6a6a6a'"},
                                 "stroke": {"signal": "datum.value === 'Markup (Line)' ? '#111111' : '#555555'"},
                                 "strokeWidth": {"value": 1.4},
                                 "opacity": {"value": 1}}}}}}
       }},
      {"data": {"name": "solar_mk"}, "mark": {"type": "line", "strokeWidth": 1.4},
       "encoding": {
         "x": {"field": "month", "type": "temporal"},
         "y": {"field": "markup", "type": "quantitative", "scale": {"domain": [-115.1, 106.3], "nice": false, "zero": false},
               "axis": {"orient": "right", "values": [-100, -50, 0, 50, 100], "format": "d", "title": "Markup (£/MW)", "labelAngle": -90, "labelAlign": "center", "labelBaseline": "alphabetic", "labelPadding": 21, "titleAngle": 90, "titlePadding": 0, "grid": false}},
         "color": {"datum": "Markup (Line)", "type": "nominal"}
       }},
      {"data": {"name": "breaks"}, "transform": [{"filter": "datum.panel === 'C'"}], "mark": {"type": "rule", "color": "#333333", "strokeWidth": 1.3, "strokeDash": [7, 4]},
       "encoding": {"x": {"field": "month", "type": "temporal"}}}
    ],
    "resolve": {"scale": {"y": "independent"}}
  }
]
}
